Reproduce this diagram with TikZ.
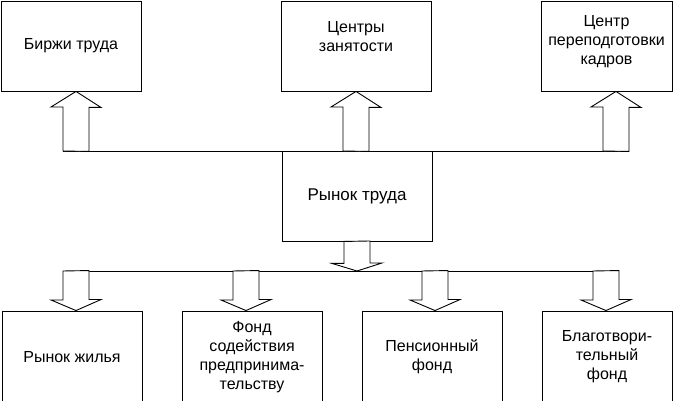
\documentclass[tikz,border=0pt]{standalone}
\usepackage{fontspec}
\setmainfont{Liberation Sans}
\begin{document}
\begin{tikzpicture}[x=1pt,y=1pt,
  box/.style={draw, line width=0.9pt, minimum height=90pt, align=center, inner sep=1pt,
    font=\fontsize{16}{19}\selectfont},
  blockarrow/.style={draw, line width=0.9pt, fill=white, line join=miter}]
\clip (0,0) rectangle (681,401);
% upper row
\node[box, minimum width=140pt] (birzhi) at (71,355) {Биржи труда};
\node[box, minimum width=150pt] (centry) at (356,355) {Центры\\занятости\\\mbox{}};
\node[box, minimum width=131pt] (pereq) at (606.5,355) {Центр\\переподготовки\\кадров\\[-8pt]\mbox{}};
% centre
\node[box, minimum width=150pt, font=\fontsize{17}{20}\selectfont] (rynok) at (357,205) {Рынок труда};
% lower row
\node[box, minimum width=140pt, minimum height=92pt] (zhilye) at (72,44) {Рынок жилья};
\node[box, minimum width=140pt, minimum height=92pt] (fond) at (252,44) {Фонд\\содействия\\предпринима-\\тельству};
\node[box, minimum width=140pt, minimum height=92pt] (pension) at (432,44) {Пенсионный\\фонд};
\node[box, minimum width=130pt, minimum height=92pt] (blago) at (607,44) {\mbox{}\\[-8pt]Благотвори-\\тельный\\фонд};

% buses
\coordinate (busTL) at (63,250);
\coordinate (busTR) at (629,250);
\coordinate (busBL) at (63,130);
\coordinate (busBR) at (619,130);
\draw[line width=0.9pt] (busTL) -- (busTR);
\draw[line width=0.9pt] (busBL) -- (busBR);

% arrows up to the upper row
\foreach \xc/\tgt in {76/birzhi,356/centry,616/pereq}{
  \coordinate (foot) at (\xc,250);
  \draw[blockarrow] (foot) ++(-13,0) -- ++(0,44) -- ++(-12,0) -- (\tgt.south -| foot)
    -- ++(25,-16) -- ++(-12,0) -- ++(0,-44) -- cycle;
}

% arrow down from the centre
\draw[blockarrow] (rynok.south) ++(-13,0) -- ++(0,-22) -- ++(-12,0) -- (busBL -| rynok.south)
  -- ++(25,8) -- ++(-12,0) -- ++(0,22) -- cycle;

% arrows down to the lower row
\foreach \xc/\tgt in {76/zhilye,246/fond,435/pension,606/blago}{
  \coordinate (foot) at (\xc,130);
  \draw[blockarrow] (foot) ++(-13,0) -- ++(0,-29) -- ++(-12,0) -- (\tgt.north -| foot)
    -- ++(25,11) -- ++(-12,0) -- ++(0,29) -- cycle;
}
\end{tikzpicture}
\end{document}
